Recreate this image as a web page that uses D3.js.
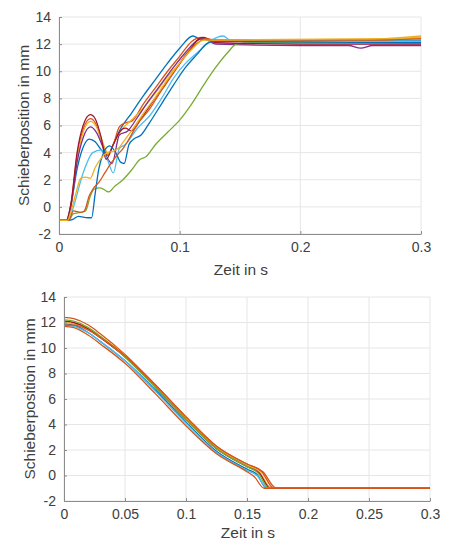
<!DOCTYPE html>
<meta charset="utf-8">
<style>
body { margin: 0; background: #fff; }
svg { font-family: "Liberation Sans", Arial, sans-serif; }
.grid line { stroke: #e6e6e6; stroke-width: 1px; }
.axis path, .axis line { stroke: #8c8c8c; }
.axis text { fill: #404040; font-size: 14px; }
.lbl { fill: #404040; font-size: 15.5px; }
.line { fill: none; stroke-width: 1.3px; }
</style>
<body>
<script src="https://d3js.org/d3.v7.min.js"></script>
<script>

// matlab default colour order
var colors = ["#0072BD", "#D95319", "#EDB120", "#7E2F8E", "#77AC30", "#4DBEEE", "#A2142F"];

var yTicks = [-2, 0, 2, 4, 6, 8, 10, 12, 14];
var xTicksTop = [0, 0.1, 0.2, 0.3];
var xTicksBottom = [0, 0.05, 0.1, 0.15, 0.2, 0.25, 0.3];

// opening (top): [time s, position mm]
var open1 = [[0,-1],[0.006,-1],[0.010,0.2],[0.015,2.8],[0.020,4.4],[0.025,5.0],[0.030,4.8],[0.035,4.2],[0.040,3.8],[0.045,4.6],[0.050,5.6],[0.060,6.9],[0.070,8.2],[0.080,9.4],[0.090,10.6],[0.100,11.7],[0.111,12.6],[0.116,12.4],[0.125,12.3],[0.2,12.3],[0.3,12.3]];
var open2 = [[0,-1],[0.007,-1],[0.010,0.2],[0.015,3.8],[0.020,5.7],[0.026,6.5],[0.030,6.2],[0.035,5.0],[0.040,3.8],[0.045,4.6],[0.050,5.9],[0.055,6.2],[0.060,6.3],[0.070,7.6],[0.080,8.8],[0.090,10.0],[0.100,11.1],[0.110,12.2],[0.118,12.5],[0.125,12.3],[0.2,12.3],[0.27,12.3],[0.3,12.5]];
var open3 = [[0,-1],[0.007,-1],[0.010,0.1],[0.015,3.6],[0.020,5.5],[0.026,6.3],[0.031,5.9],[0.036,4.8],[0.041,3.9],[0.046,4.8],[0.052,5.7],[0.060,6.4],[0.070,7.3],[0.080,8.4],[0.090,9.6],[0.100,10.6],[0.110,11.8],[0.118,12.4],[0.130,12.2],[0.2,12.2],[0.27,12.4],[0.3,12.6]];
var open4 = [[0,-1],[0.007,-1],[0.010,0.1],[0.015,3.3],[0.020,5.1],[0.026,5.9],[0.031,5.5],[0.036,4.5],[0.040,3.6],[0.044,3.2],[0.050,5.3],[0.057,5.6],[0.065,6.6],[0.075,7.9],[0.085,9.1],[0.095,10.3],[0.105,11.4],[0.115,12.3],[0.120,12.4],[0.130,12.0],[0.2,11.9],[0.24,11.9],[0.25,11.7],[0.26,11.9],[0.3,11.9]];
var open5 = [[0,-1],[0.008,-1],[0.012,-0.5],[0.018,-0.4],[0.022,-0.3],[0.026,0.8],[0.029,1.3],[0.034,1.4],[0.037,1.3],[0.041,1.1],[0.046,1.5],[0.053,2.0],[0.060,2.7],[0.067,3.5],[0.072,3.7],[0.080,4.6],[0.090,5.5],[0.100,6.4],[0.110,7.6],[0.120,9.0],[0.130,10.3],[0.140,11.4],[0.147,12.0],[0.160,12.1],[0.3,12.1]];
var open6 = [[0,-1],[0.008,-1],[0.012,0.0],[0.020,2.5],[0.028,4.0],[0.035,4.2],[0.040,3.5],[0.045,2.5],[0.050,4.3],[0.055,4.6],[0.065,5.8],[0.075,6.7],[0.085,8.0],[0.095,9.5],[0.105,10.6],[0.115,11.4],[0.125,12.2],[0.136,12.6],[0.142,12.3],[0.3,12.2]];
var open7 = [[0,-1],[0.006,-1],[0.010,0.3],[0.015,4.0],[0.020,6.0],[0.026,6.8],[0.030,6.5],[0.035,5.1],[0.039,3.5],[0.045,4.6],[0.050,5.5],[0.055,5.8],[0.060,5.6],[0.068,6.5],[0.078,7.8],[0.088,9.0],[0.098,10.3],[0.108,11.5],[0.116,12.4],[0.120,12.5],[0.130,12.1],[0.2,12.0],[0.3,12.0]];
var open8 = [[0,-1],[0.008,-1],[0.012,-0.9],[0.016,-0.7],[0.024,-0.8],[0.027,-0.8],[0.030,1.0],[0.033,2.8],[0.037,4.0],[0.042,4.5],[0.047,4.0],[0.051,3.3],[0.054,3.2],[0.058,4.6],[0.062,5.0],[0.068,5.3],[0.075,6.2],[0.085,7.6],[0.095,9.0],[0.105,10.3],[0.115,11.3],[0.122,12.0],[0.128,12.2],[0.3,12.1]];
var open9 = [[0,-1],[0.008,-1],[0.012,-0.3],[0.018,-0.4],[0.021,-0.3],[0.025,0.8],[0.028,1.3],[0.033,1.8],[0.038,2.5],[0.043,3.2],[0.048,3.8],[0.053,4.3],[0.058,5.0],[0.065,6.1],[0.075,7.2],[0.085,8.6],[0.095,9.9],[0.105,11.2],[0.115,12.1],[0.122,12.4],[0.130,12.3],[0.26,12.3],[0.3,12.4]];
var open10 = [[0,-1],[0.007,-1],[0.010,-0.3],[0.014,1.0],[0.018,2.1],[0.022,2.2],[0.026,2.1],[0.030,2.9],[0.035,3.6],[0.040,4.0],[0.045,4.1],[0.050,4.4],[0.055,5.0],[0.060,5.6],[0.070,6.9],[0.080,8.1],[0.090,9.4],[0.100,10.6],[0.110,11.6],[0.120,12.3],[0.130,12.3],[0.27,12.4],[0.3,12.5]];

// closing (bottom)
var close1 = [[0,11.9],[0.008,11.8],[0.02,11.2],[0.03,10.5],[0.05,9.0],[0.075,6.7],[0.1,4.2],[0.125,1.9],[0.15,0.5],[0.158,0.1],[0.166,-1.0],[0.3,-1.0]];
var close2 = [[0,12.4],[0.008,12.3],[0.02,11.8],[0.03,11.1],[0.05,9.5],[0.075,7.1],[0.1,4.6],[0.125,2.3],[0.15,0.9],[0.162,0.3],[0.172,-1.0],[0.3,-1.0]];
var close3 = [[0,12.0],[0.008,11.9],[0.02,11.5],[0.03,10.9],[0.05,9.4],[0.075,7.0],[0.1,4.5],[0.125,2.2],[0.15,0.8],[0.16,0.3],[0.170,-1.0],[0.3,-1.0]];
var close4 = [[0,12.1],[0.008,12.0],[0.02,11.5],[0.03,10.8],[0.05,9.3],[0.075,6.9],[0.1,4.4],[0.125,2.1],[0.15,0.7],[0.16,0.2],[0.169,-1.0],[0.3,-1.0]];
var close5 = [[0,12.2],[0.008,12.1],[0.02,11.6],[0.03,10.9],[0.05,9.3],[0.075,6.9],[0.1,4.4],[0.125,2.1],[0.15,0.7],[0.159,0.2],[0.168,-1.0],[0.3,-1.0]];
var close6 = [[0,11.8],[0.008,11.7],[0.02,11.2],[0.03,10.5],[0.05,9.0],[0.075,6.6],[0.1,4.1],[0.125,1.8],[0.15,0.4],[0.158,0.0],[0.167,-1.0],[0.3,-1.0]];
var close7 = [[0,11.8],[0.008,11.8],[0.02,11.4],[0.03,10.8],[0.05,9.4],[0.075,7.1],[0.1,4.6],[0.125,2.3],[0.15,0.9],[0.163,0.3],[0.174,-1.0],[0.3,-1.0]];
var close8 = [[0,11.7],[0.008,11.6],[0.02,11.0],[0.03,10.3],[0.05,8.8],[0.075,6.4],[0.1,3.9],[0.125,1.7],[0.15,0.3],[0.156,-0.1],[0.164,-1.0],[0.3,-1.0]];

var openSeries = [open1, open2, open3, open4, open5, open6, open7, open8, open9, open10];
var closeSeries = [close1, close2, close3, close4, close5, close6, close7, close8];
var closeColors = ["#0072BD", "#D95319", "#EDB120", "#A2142F", "#77AC30", "#4DBEEE", "#D95319", "#D95319"];

var svg = d3.select("body").append("svg")
    .attr("width", 451)
    .attr("height", 543);

function drawPanel(box, xTicks, series, cols, fmt) {
  var x = d3.scaleLinear().domain([0, 0.3]).range([box.left, box.right]);
  var y = d3.scaleLinear().domain([-2, 14]).range([box.bottom, box.top]);

  var g = svg.append("g");

  // grid
  g.append("g").attr("class", "grid")
    .selectAll("line").data(xTicks).enter().append("line")
      .attr("x1", function(d) { return x(d); }).attr("x2", function(d) { return x(d); })
      .attr("y1", box.top).attr("y2", box.bottom);
  g.append("g").attr("class", "grid")
    .selectAll("line").data(yTicks).enter().append("line")
      .attr("x1", box.left).attr("x2", box.right)
      .attr("y1", function(d) { return y(d); }).attr("y2", function(d) { return y(d); });

  var line = d3.line()
      .x(function(d) { return x(d[0]); })
      .y(function(d) { return y(d[1]); })
      .curve(d3.curveMonotoneX);

  g.selectAll(".line").data(series).enter().append("path")
      .attr("class", "line")
      .style("stroke", function(d, i) { return cols[i % cols.length]; })
      .attr("d", line);

  g.append("g")
      .attr("class", "axis")
      .attr("transform", "translate(0," + box.bottom + ")")
      .call(d3.axisBottom(x).tickValues(xTicks).tickFormat(fmt).tickSizeInner(-3).tickSizeOuter(0).tickPadding(8));

  g.append("g")
      .attr("class", "axis")
      .attr("transform", "translate(" + box.left + ",0)")
      .call(d3.axisLeft(y).tickValues(yTicks).tickFormat(fmt).tickSizeInner(-3).tickSizeOuter(0).tickPadding(8));

  g.selectAll(".axis .domain").attr("stroke", "#8c8c8c");

  g.append("text").attr("class", "lbl")
      .attr("x", (box.left + box.right) / 2 + 1)
      .attr("y", box.bottom + box.xlab)
      .attr("text-anchor", "middle")
      .text("Zeit in s");

  g.append("text").attr("class", "lbl")
      .attr("transform", "translate(" + box.ylab + "," + (box.top + box.bottom) / 2 + ") rotate(-90)")
      .attr("text-anchor", "middle")
      .text("Schieberposition in mm");
}

// plain hyphen for negatives, like the original
var fmt = function(d) { return String(d); };

drawPanel({left: 59, right: 421, top: 17, bottom: 234, xlab: 41, ylab: 29}, xTicksTop, openSeries, colors, fmt);
drawPanel({left: 64, right: 430, top: 297, bottom: 501, xlab: 37, ylab: 35}, xTicksBottom, closeSeries, closeColors, fmt);

</script>
</body>
